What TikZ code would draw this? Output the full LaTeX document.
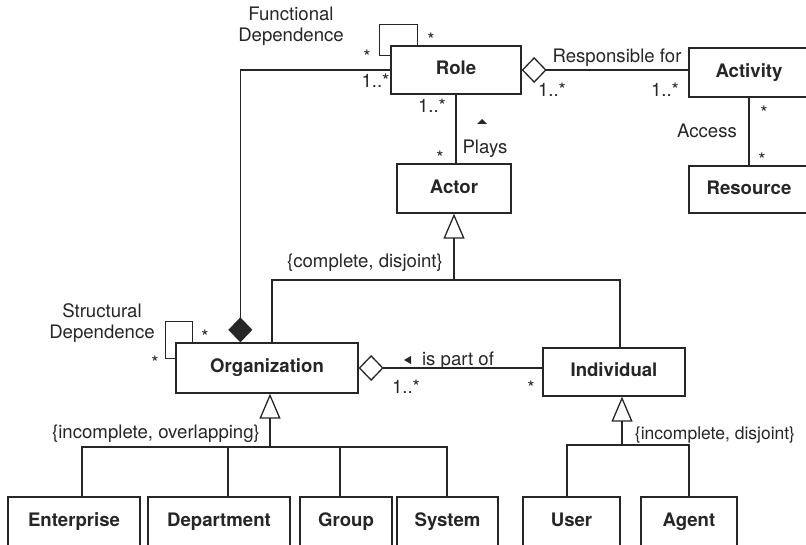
\documentclass[tikz,border=0pt]{standalone}
\usepackage{fontspec}
\setmainfont{TeX Gyre Heros}
\usetikzlibrary{arrows.meta,calc}
\definecolor{ink}{RGB}{38,38,38}
\begin{document}
\begin{tikzpicture}[x=1pt,y=-1pt,
  txt/.style={font=\fontsize{18.6}{21}\selectfont, text=ink, inner sep=0pt},
  lbl/.style={txt, anchor=base},
  mult/.style={txt, anchor=base},
  cls/.style={draw=ink, line width=1.3pt, fill=white, inner sep=0pt,
    font=\fontsize{18.6}{21}\selectfont\bfseries, text=ink,
    text height=13.4pt, text depth=3.9pt},
  link/.style={draw=ink, line width=1.3pt},
  aggr/.style={link, {Diamond[open,length=25pt,width=26pt]}-},
  comp/.style={link, -{Diamond[length=25pt,width=24pt]}},
  gen/.style={link, -{Triangle[open,length=25pt,width=21pt]}},
]
\useasboundingbox (0,0) rectangle (806,545);
\begin{scope}
\clip (0,0) rectangle (806,545);

% classes
\node[cls, minimum width=130pt, minimum height=48pt] (role)  at (456,70)    {Role};
\node[cls, minimum width=114pt, minimum height=49pt] (actor) at (454,188.5) {Actor};
\node[cls, minimum width=120pt, minimum height=49pt] (act)   at (749,72.5)  {Activity};
\node[cls, minimum width=120pt, minimum height=47pt] (res)   at (749,189.5) {Resource};
\node[cls, minimum width=182pt, minimum height=50pt] (org)   at (267,368)   {Organization};
\node[cls, minimum width=142pt, minimum height=48pt] (ind)   at (614,372)   {Individual};
\node[cls, minimum width=132pt, minimum height=50pt] (ent)   at (74,522)    {Enterprise};
\node[cls, minimum width=142pt, minimum height=50pt] (dep)   at (219,522)   {Department};
\node[cls, minimum width=92pt,  minimum height=50pt] (grp)   at (346,522)   {Group};
\node[cls, minimum width=101pt, minimum height=50pt] (sys)   at (447.5,522) {System};
\node[cls, minimum width=97pt,  minimum height=50pt] (usr)   at (571.5,522) {User};
\node[cls, minimum width=96pt,  minimum height=50pt] (agt)   at (689,522)   {Agent};

% Role: functional dependence (self association)
\draw[link] ($(role.north west)+(0,10)$) -| ($(role.north west)+(-11,-21)$)
  -| ($(role.north west)+(27,0)$);
\node[mult] (fd1) at (431,47) {*};
\node[mult] (fd2) at (367,64) {*};
\node[txt, align=center] (fdlabel) at (291,26) {Functional\\Dependence};

% Role composed into Organization
\draw[comp] (role.west) -| ($(org.north west)+(65,0)$);
\node[mult] (rc1) at (375.5,88) {1..*};

% Role responsible for Activity
\draw[aggr] (role.east) -- (role.east -| act.west);
\node[lbl] (resp) at (617,63) {Responsible for};
\node[mult] (ra1) at (552,97) {1..*};
\node[mult] (ra2) at (665,97) {1..*};

% Activity accesses Resource
\draw[link] (act.south) -- (res.north);
\node[lbl] (access) at (707,138) {Access};
\node[mult] (ar1) at (764,120) {*};
\node[mult] (ar2) at (762,167) {*};

% Actor plays Role
\draw[link] (role.south) -- (role.south |- actor.north);
\node[mult] (pl1) at (432,113) {1..*};
\node[mult] (pl2) at (440,165) {*};
\node[lbl] (plays) at (485,154) {Plays};
\fill[ink] (477,124) -- (487,124) -- (482,119) -- cycle;

% Actor generalization {complete, disjoint}
\coordinate (barA) at (454,280);
\draw[gen] (barA) -- (actor.south);
\draw[link] ($(org.north)+(5,0)$) |- (barA) -| ($(ind.north)+(6,0)$);
\node[lbl] (cd) at (365,268) {\{complete, disjoint\}};

% Organization: structural dependence (self association)
\draw[link] ($(org.north west)+(0,16)$) -| ($(org.north west)+(-10,-21)$)
  -| ($(org.north west)+(17,0)$);
\node[mult] (sd1) at (205,344) {*};
\node[mult] (sd2) at (155,370) {*};
\node[txt, align=center] (sdlabel) at (102,323) {Structural\\Dependence};

% Individual is part of Organization
\draw[aggr] (org.east) -- (org.east -| ind.west);
\node[lbl] (ipo) at (458,365) {is part of};
\fill[ink] (411,356) -- (411,364) -- (404,360) -- cycle;
\node[mult] (io1) at (406,393) {1..*};
\node[mult] (io2) at (531,394) {*};

% Organization generalization {incomplete, overlapping}
\coordinate (barO) at (270,447);
\draw[gen] (barO) -- (org.south -| barO);
\draw[link] (ent.north -| 82,0) |- (barO) -| (sys.north -| 447,0);
\draw[link] (dep.north -| 228,0) -- (228,447);
\draw[link] (grp.north -| 340,0) -- (340,447);
\node[lbl] (iol) at (156,438) {\{incomplete, overlapping\}};

% Individual generalization {incomplete, disjoint}
\coordinate (barI) at (622,445);
\draw[gen] (barI) -- (ind.south -| barI);
\draw[link] (usr.north -| 567,0) |- (barI) -| (agt.north);
\node[lbl, font=\fontsize{17.5}{21}\selectfont] (idl) at (715,439) {\{incomplete, disjoint\}};
\end{scope}
\end{tikzpicture}
\end{document}
